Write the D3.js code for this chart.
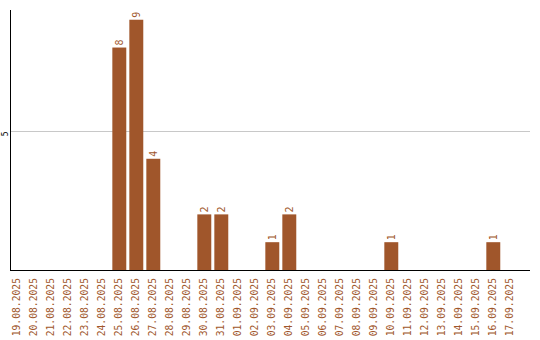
<!DOCTYPE html>
<html>
<head>
<meta charset="utf-8">
<script src="https://cdn.jsdelivr.net/npm/d3@7"></script>
<style>
  body { margin: 0; background: #fff; }
</style>
</head>
<body>
<div id="viz"></div>
<script>
// Dates shown along the x axis
const dates = ["19.08.2025", "20.08.2025", "21.08.2025", "22.08.2025", "23.08.2025", "24.08.2025",
    "25.08.2025", "26.08.2025", "27.08.2025", "28.08.2025", "29.08.2025", "30.08.2025",
    "31.08.2025", "01.09.2025", "02.09.2025", "03.09.2025", "04.09.2025", "05.09.2025",
    "06.09.2025", "07.09.2025", "08.09.2025", "09.09.2025", "10.09.2025", "11.09.2025",
    "12.09.2025", "13.09.2025", "14.09.2025", "15.09.2025", "16.09.2025", "17.09.2025"];

// Count per day
const counts = [0, 0, 0, 0, 0, 0, 8, 9, 4, 0, 0, 2, 2, 0, 0, 1, 2, 0, 0, 0, 0, 0, 1, 0, 0, 0, 0, 0, 1, 0];

const yTicks = [5];

const width = 540;
const height = 340;
const barColor = "#a0562b";

const svg = d3.select("#viz").append("svg")
    .attr("width", width)
    .attr("height", height)
    .style("font-family", "'DejaVu Sans Mono', monospace");

const x = d3.scaleBand()
    .domain(dates)
    .range([10, 517.6])
    .paddingInner(0.18)
    .paddingOuter(0.02);

const y = d3.scaleLinear()
    .domain([0, 9.35])
    .range([270, 10]);

// gridlines
svg.selectAll("line.grid")
    .data(yTicks)
    .enter()
    .append("line")
    .attr("class", "grid")
    .attr("x1", 11)
    .attr("x2", 530)
    .attr("y1", d => Math.round(y(d)) + 0.5)
    .attr("y2", d => Math.round(y(d)) + 0.5)
    .attr("stroke", "#c8c8c8");

// y tick labels
svg.selectAll("text.ytick")
    .data(yTicks)
    .enter()
    .append("text")
    .attr("class", "ytick")
    .attr("transform", d => `translate(8,${y(d) + 3}) rotate(-90)`)
    .attr("text-anchor", "middle")
    .style("font-size", "8px")
    .attr("fill", "#000")
    .text(d => d);

// bars
const data = dates.map((d, i) => ({date: d, value: counts[i]}));

svg.selectAll("rect.bar")
    .data(data.filter(d => d.value > 0))
    .enter()
    .append("rect")
    .attr("class", "bar")
    .attr("x", d => x(d.date))
    .attr("width", x.bandwidth())
    .attr("y", d => y(d.value))
    .attr("height", d => y(0) - y(d.value))
    .attr("fill", barColor);

// value labels
svg.selectAll("text.val")
    .data(data.filter(d => d.value > 0))
    .enter()
    .append("text")
    .attr("class", "val")
    .attr("transform", d => `translate(${x(d.date) + x.bandwidth() / 2 + 3.5},${y(d.value) - 2}) rotate(-90)`)
    .attr("text-anchor", "start")
    .style("font-size", "10px")
    .attr("fill", barColor)
    .text(d => d.value);

// axes lines
svg.append("line")
    .attr("x1", 10.5).attr("x2", 10.5)
    .attr("y1", 10).attr("y2", 270)
    .attr("stroke", "#000");

svg.append("line")
    .attr("x1", 10).attr("x2", 530)
    .attr("y1", 270.5).attr("y2", 270.5)
    .attr("stroke", "#000");

// x labels
svg.selectAll("text.xlab")
    .data(dates)
    .enter()
    .append("text")
    .attr("class", "xlab")
    .attr("transform", d => `translate(${x(d) + x.bandwidth() / 2 + 2.7},278) rotate(-90)`)
    .attr("text-anchor", "end")
    .style("font-size", "9.7px")
    .attr("fill", barColor)
    .text(d => d);
</script>
</body>
</html>
